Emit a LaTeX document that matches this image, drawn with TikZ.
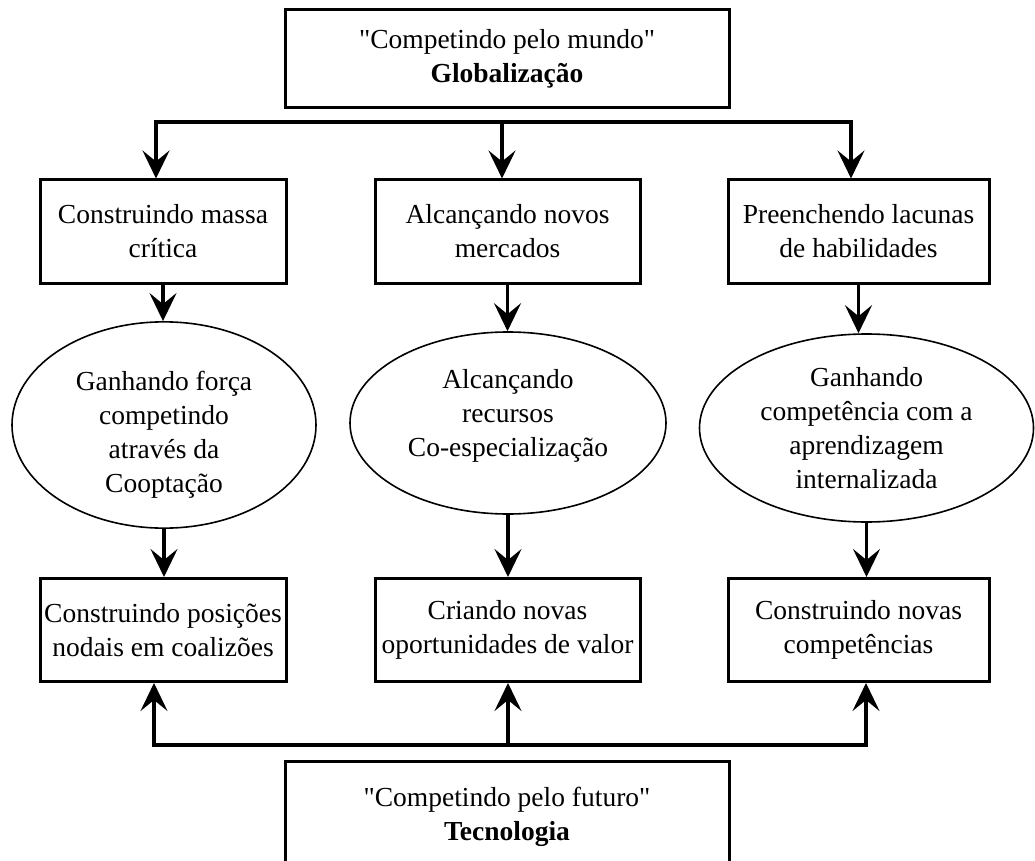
\documentclass[tikz,border=0pt]{standalone}
\usepackage{fontspec}
\setmainfont{Liberation Serif}
\usetikzlibrary{arrows.meta,shapes.geometric}
\tikzset{
	texto/.style={align=center, inner sep=0pt, font=\fontsize{27.5}{34}\selectfont},
	caixa/.style={texto, draw, line width=3pt, minimum height=103pt},
	bolha/.style={texto, ellipse, draw, line width=1.6pt},
	ligacao/.style={line width=3.8pt, line cap=rect},
	seta/.style={line width=3.3pt, -{Stealth[length=28pt, width=27pt, inset=11pt]}}
}
\begin{document}
\begin{tikzpicture}[x=1pt,y=1pt]
		\useasboundingbox (0,0) rectangle (1035,-861);
		
		% Top and bottom
		\node[caixa, minimum width=444pt, minimum height=98pt] (mundo) at (507,-59)
		{\textquotedbl Competindo pelo mundo\textquotedbl\\ \textbf{Globalização}};
		\node[caixa, minimum width=444pt, minimum height=110pt, anchor=north] (futuro) at (507,-760)
		{\textquotedbl Competindo pelo futuro\textquotedbl\\ \textbf{Tecnologia}};
		
		% First row
		\node[caixa, minimum width=246pt] (massa) at (163,-231.5)
		{Construindo massa\\ crítica};
		\node[caixa, minimum width=265pt] (mercados) at (507.5,-231.5)
		{Alcançando novos\\ mercados};
		\node[caixa, minimum width=261pt] (lacunas) at (858.5,-231.5)
		{Preenchendo lacunas\\ de habilidades};
		
		% Ellipses
		\node[bolha, minimum width=304pt, minimum height=184pt] (forca) at (164,-425)
		{\rule{0pt}{38pt}Ganhando força\\ competindo\\ através da\\ Cooptação};
		\node[bolha, minimum width=316pt, minimum height=182pt] (recursos) at (508,-423)
		{Alcançando\\ recursos\\ Co-especialização\\[-14pt]};
		\node[bolha, minimum width=334pt, minimum height=188pt] (competencia) at (866.5,-428)
		{Ganhando\\ competência com a\\ aprendizagem\\ internalizada};
		
		% Last row
		\node[caixa, minimum width=246pt] (posicoes) at (163,-630)
		{Construindo posições\\ nodais em coalizões};
		\node[caixa, minimum width=265pt] (valor) at (507.5,-630)
		{Criando novas\\ oportunidades de valor};
		\node[caixa, minimum width=261pt] (novas) at (858.5,-630)
		{Construindo novas\\ competências};
		
		% Bracket from the top
		\coordinate (t1) at (156,-122);
		\coordinate (t2) at (502,-122);
		\coordinate (t3) at (851,-122);
		\draw[ligacao] (t1) -- (t3);
		\draw[seta] (t1) -- (t1 |- massa.north);
		\draw[seta] (t2) -- (t2 |- mercados.north);
		\draw[seta] (t3) -- (t3 |- lacunas.north);
		
		% Down arrows
		\draw[seta] (massa.south) -- (massa.south |- forca.north);
		\draw[seta] (mercados.south) -- (mercados.south |- recursos.north);
		\draw[seta] (lacunas.south) -- (lacunas.south |- competencia.north);
		\draw[seta] (forca.south) -- (forca.south |- posicoes.north);
		\draw[seta] (recursos.south) -- (recursos.south |- valor.north);
		\draw[seta] (competencia.south) -- (competencia.south |- novas.north);
		
		% Bracket from the bottom
		\coordinate (b1) at (154,-745);
		\coordinate (b2) at (508,-745);
		\coordinate (b3) at (866,-745);
		\draw[ligacao] (b1) -- (b3);
		\draw[seta] (b1) -- (b1 |- posicoes.south);
		\draw[seta] (b2) -- (b2 |- valor.south);
		\draw[seta] (b3) -- (b3 |- novas.south);
	\end{tikzpicture}
\end{document}
